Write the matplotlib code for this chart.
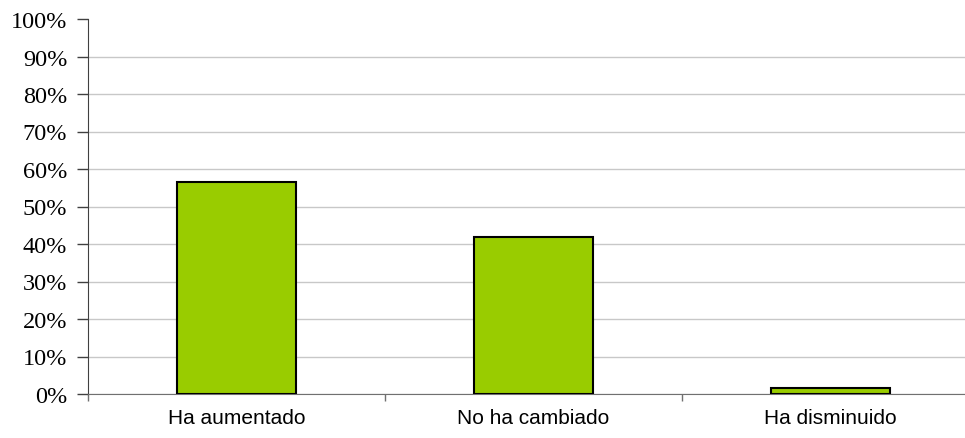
import numpy as np
import matplotlib.pyplot as plt
from matplotlib.ticker import FuncFormatter

categories = ["Ha aumentado", "No ha cambiado", "Ha disminuido"]
values = [56.5, 41.8, 1.6]

fig = plt.figure(figsize=(9.65, 4.39), dpi=100)
# plot area: x 88..979 px (cropped at right edge), y 20..395 px
ax = fig.add_axes([88 / 965, 44 / 439, 891 / 965, 375 / 439])

x = np.arange(len(categories))
ax.bar(x, values, width=0.4, color="#99CC00", edgecolor="black", linewidth=1.5, zorder=3)

ax.set_xlim(-0.5, len(categories) - 0.5)
ax.set_ylim(0, 100)
ax.set_yticks(np.arange(0, 101, 10))
ax.yaxis.set_major_formatter(FuncFormatter(lambda v, p: f"{v:.0f}%"))
ax.yaxis.grid(True, color="#c8c8c8", linewidth=1, zorder=0)
ax.get_ygridlines()[-1].set_visible(False)

ax.set_xticks(np.arange(-0.5, len(categories)), minor=False)
ax.set_xticklabels([])
ax.set_xticks(x, minor=True)
ax.set_xticklabels(categories, minor=True, family="Liberation Sans", fontsize=15)
ax.tick_params(axis="x", which="minor", length=0, pad=10)
ax.tick_params(axis="x", which="major", length=5, width=1, color="#707070")
ax.tick_params(axis="y", length=8, width=1, color="#404040", pad=7)
for lab in ax.get_yticklabels():
    lab.set_family("Liberation Serif")
    lab.set_fontsize(17.5)

for s in ["top", "right"]:
    ax.spines[s].set_visible(False)
ax.spines["left"].set_color("#404040")
ax.spines["bottom"].set_color("#707070")

fig.savefig("out.png", dpi=100)
